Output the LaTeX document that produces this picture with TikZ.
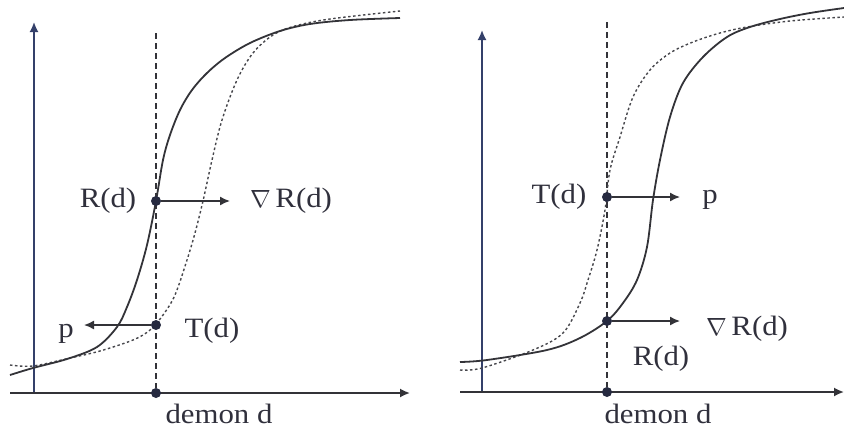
\documentclass[tikz,border=0pt]{standalone}
\usepackage{fontspec}
\setmainfont[FakeStretch=1.1]{Liberation Serif}
\usetikzlibrary{arrows.meta}
\definecolor{inkc}{HTML}{333338}
\definecolor{axisb}{HTML}{34406A}
\definecolor{dotc}{HTML}{262A40}
\definecolor{txtc}{HTML}{30303C}
\begin{document}
\begin{tikzpicture}[x=1pt,y=-1pt,
  tip/.style={-{Latex[length=10pt,width=9pt]}},
  axisline/.style={draw=inkc,line width=1.7pt,tip},
  yaxisline/.style={draw=axisb,line width=1.7pt,tip},
  guide/.style={draw=inkc,line width=1.2pt,dash pattern=on 6pt off 4pt},
  rcurve/.style={draw=inkc,line width=1.8pt},
  tcurve/.style={draw=inkc!90,line width=1.4pt,dash pattern=on 2.5pt off 2.5pt},
  pt/.style={circle,fill=dotc,inner sep=0pt,minimum size=10pt},
  vec/.style={draw=inkc,line width=1.5pt,tip},
  lbl/.style={text=txtc,font=\fontsize{28}{30}\selectfont,inner sep=0pt,anchor=base}]
\useasboundingbox (0,0) rectangle (844,429);

% ---------- left panel ----------
\coordinate (lyo) at (34,393);
\coordinate (lyt) at (34,22);
\coordinate (lxs) at (10,393);
\coordinate (lxe) at (410,393);
\draw[yaxisline] (lyo) -- (lyt);
\draw[axisline] (lxs) -- (lxe);
\coordinate (lgt) at (156,33);
\node[pt] (lB) at (156,393) {};
\draw[guide] (lgt) -- (lB);

\draw[tcurve] plot[smooth,tension=0.55] coordinates {(10,365) (33,366) (70,358) (100,351) (133,340) (150,330) (163,315) (175,295) (187,260) (195,233) (203,201) (212,160) (222,120) (237,80) (253,53) (273,35) (295,26) (330,19) (400,11)};
\draw[rcurve] plot[smooth,tension=0.55] coordinates {(10,375) (33,368) (67,359) (97,347) (117,327) (127,307) (137,280) (147,245) (156,201) (163,160) (170,135) (180,110) (192,90) (207,73) (225,58) (250,43) (280,31) (310,24) (350,20) (400,18)};

\node[pt] (lR) at (156,201) {};
\node[pt] (lT) at (156,325) {};
\coordinate (lRe) at (230,201);
\coordinate (lTe) at (84,325);
\draw[vec] (lR) -- (lRe);
\draw[vec] (lT) -- (lTe);

\node[lbl] (lRl) at (108,207) {R(d)};
\node[lbl] (lGl) at (291,207) {$\nabla$\,R(d)};
\node[lbl] (lPl) at (66,337) {p};
\node[lbl] (lTl) at (212,337) {T(d)};
\node[lbl] (lDl) at (219,423) {demon d};

% ---------- right panel ----------
\coordinate (ryo) at (482,392);
\coordinate (ryt) at (482,30);
\coordinate (rxs) at (460,392);
\coordinate (rxe) at (844,392);
\draw[yaxisline] (ryo) -- (ryt);
\draw[axisline] (rxs) -- (rxe);
\coordinate (rgt) at (607,22);
\node[pt] (rB) at (607,392) {};
\draw[guide] (rgt) -- (rB);

\draw[tcurve] plot[smooth,tension=0.55] coordinates {(460,370) (482,368) (533,350) (563,333) (580,303) (588,280) (597,250) (605,210) (610,170) (620,137) (633,97) (650,70) (670,53) (693,42) (720,33) (747,27) (790,21) (844,17)};
\draw[rcurve] plot[smooth,tension=0.55] coordinates {(460,362) (487,360) (547,350) (580,338) (607,321) (623,303) (637,280) (647,247) (653,200) (660,160) (670,117) (683,83) (703,57) (727,37) (750,27) (780,19) (810,13) (844,8)};

\node[pt] (rT) at (607,197) {};
\node[pt] (rR) at (607,321) {};
\coordinate (rTe) at (680,197);
\coordinate (rRe) at (680,321);
\draw[vec] (rT) -- (rTe);
\draw[vec] (rR) -- (rRe);

\node[lbl] (rTl) at (559,203) {T(d)};
\node[lbl] (rPl) at (710,203) {p};
\node[lbl] (rGl) at (747,335) {$\nabla$\,R(d)};
\node[lbl] (rRl) at (661,365) {R(d)};
\node[lbl] (rDl) at (658,423) {demon d};
\end{tikzpicture}
\end{document}
